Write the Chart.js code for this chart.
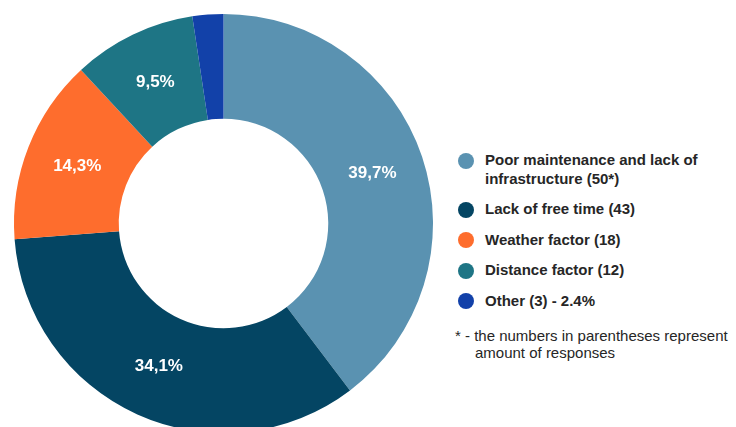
<!DOCTYPE html>
<html>
<head>
<meta charset="utf-8">
<script src="https://cdn.jsdelivr.net/npm/chart.js@4.4.1/dist/chart.umd.min.js"></script>
<style>
  html, body { margin: 0; padding: 0; background: #fff; }
  body { width: 736px; height: 427px; overflow: hidden; position: relative; font-family: "Liberation Sans", Arial, sans-serif; }
  #chartBox { position: absolute; left: 0; top: 0; width: 447px; height: 447px; }
  #legend { position: absolute; left: 458px; top: 151px; width: 280px; color: #262626; }
  .item { display: flex; align-items: flex-start; margin-bottom: 12px; font-size: 15px; font-weight: bold; line-height: 18.6px; }
  .dot { flex: none; width: 16px; height: 16px; border-radius: 50%; margin-top: 1.5px; margin-right: 11px; }
  .note { margin-top: 16px; font-size: 15px; line-height: 17px; padding-left: 17px; text-indent: -20px; margin-left: 0px; }
</style>
</head>
<body>
<div id="chartBox"><canvas id="chart" width="447" height="447"></canvas></div>
<div id="legend"></div>
<script>
// answers, in clockwise order from the top
const categories = [
  'Poor maintenance and lack of infrastructure (50*)',
  'Lack of free time (43)',
  'Weather factor (18)',
  'Distance factor (12)',
  'Other (3) - 2.4%'
];
const responses = [50, 43, 18, 12, 3];
const colors = ['#5a92b1', '#044563', '#fe6d2d', '#1e7585', '#1241a9'];
const footnote = '* - the numbers in parentheses represent amount of responses';

const total = responses.reduce((a, b) => a + b, 0);

// white percent text in the middle of each slice (small slices are left out)
const sliceLabels = {
  id: 'sliceLabels',
  afterDatasetsDraw(chart) {
    const ctx = chart.ctx;
    const meta = chart.getDatasetMeta(0);
    ctx.save();
    ctx.fillStyle = '#ffffff';
    ctx.font = 'bold 17px "Liberation Sans", Arial, sans-serif';
    ctx.textAlign = 'center';
    ctx.textBaseline = 'middle';
    meta.data.forEach((arc, i) => {
      const pct = responses[i] / total * 100;
      if (pct < 5) return;
      const pos = arc.tooltipPosition();
      ctx.fillText(pct.toFixed(1).replace('.', ',') + '%', pos.x, pos.y);
    });
    ctx.restore();
  }
};

new Chart(document.getElementById('chart'), {
  type: 'doughnut',
  data: {
    labels: categories,
    datasets: [{
      data: responses,
      backgroundColor: colors,
      borderWidth: 0,
      hoverOffset: 0
    }]
  },
  options: {
    responsive: false,
    animation: false,
    cutout: '50%',
    layout: { padding: 14 },
    plugins: {
      legend: { display: false },
      tooltip: { enabled: false }
    }
  },
  plugins: [sliceLabels]
});

// html legend
const legend = document.getElementById('legend');
categories.forEach((name, i) => {
  const row = document.createElement('div');
  row.className = 'item';
  const dot = document.createElement('span');
  dot.className = 'dot';
  dot.style.background = colors[i];
  const txt = document.createElement('span');
  txt.textContent = name;
  row.appendChild(dot);
  row.appendChild(txt);
  legend.appendChild(row);
});
const note = document.createElement('div');
note.className = 'note';
note.textContent = footnote;
legend.appendChild(note);
</script>
</body>
</html>
